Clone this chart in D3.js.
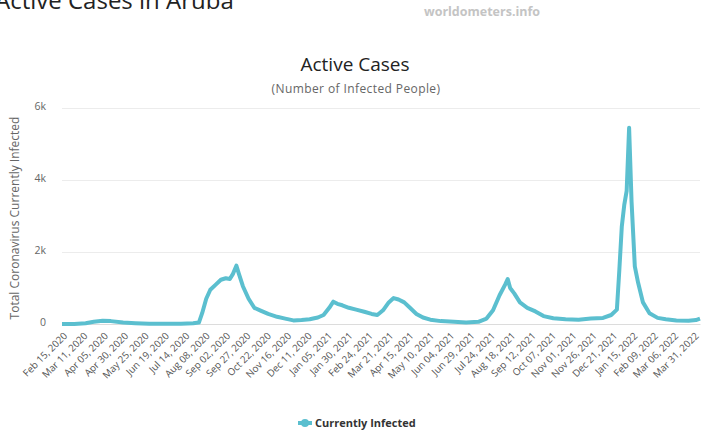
<!DOCTYPE html>
<html>
<head>
<meta charset="utf-8">
<script src="https://cdn.jsdelivr.net/npm/d3@7"></script>
<style>
  body { margin: 0; background: #fff; }
  text { font-family: "Open Sans", "DejaVu Sans", sans-serif; }
</style>
</head>
<body>
<svg id="chart" width="703" height="435"></svg>
<script>
// data
const dates = [
  "2020-02-15","2020-03-01","2020-03-15","2020-03-25","2020-04-05","2020-04-15","2020-04-30",
  "2020-05-15","2020-06-01","2020-06-20","2020-07-10","2020-07-25","2020-08-01","2020-08-05",
  "2020-08-10","2020-08-15","2020-08-22","2020-08-28","2020-09-03","2020-09-08","2020-09-12",
  "2020-09-16","2020-09-19","2020-09-24","2020-10-01","2020-10-08","2020-10-15","2020-10-25",
  "2020-11-05","2020-11-15","2020-11-25","2020-12-05","2020-12-15","2020-12-25","2021-01-01",
  "2021-01-08","2021-01-13","2021-01-18","2021-01-24","2021-02-01","2021-02-10","2021-02-20",
  "2021-03-01","2021-03-08","2021-03-15","2021-03-22","2021-03-28","2021-04-03","2021-04-10",
  "2021-04-17","2021-04-25","2021-05-03","2021-05-12","2021-05-25","2021-06-10","2021-06-25",
  "2021-07-10","2021-07-20","2021-07-28","2021-08-05","2021-08-12","2021-08-15","2021-08-18",
  "2021-08-23","2021-08-30","2021-09-08","2021-09-18","2021-09-28","2021-10-10","2021-10-25",
  "2021-11-10","2021-11-25","2021-12-10","2021-12-20","2021-12-27","2021-12-30","2022-01-02",
  "2022-01-05","2022-01-08","2022-01-11","2022-01-14","2022-01-18","2022-01-22","2022-01-28",
  "2022-02-05","2022-02-15","2022-02-25","2022-03-10","2022-03-25","2022-04-03","2022-04-08"
];
const infected = [
  0, 0, 20, 60, 90, 80, 40,
  20, 5, 5, 10, 20, 40, 300,
  700, 950, 1100, 1230, 1270, 1250, 1400,
  1620, 1400, 1050, 700, 450, 380, 280,
  200, 150, 100, 110, 130, 180, 250,
  450, 620, 560, 520, 450, 400, 340,
  280, 250, 380, 600, 720, 680, 600,
  450, 280, 180, 120, 80, 60, 40,
  60, 150, 380, 800, 1100, 1250, 1000,
  850, 600, 450, 350, 220, 160, 130,
  120, 150, 170, 250, 400, 1500, 2700,
  3300, 3700, 5450, 3400, 1600, 1150, 600,
  300, 170, 130, 100, 90, 110, 150
];
const tickStart = "2020-02-15";
const tickStepDays = 25;
const tickCount = 32;
const yTicks = [0, 2000, 4000, 6000];

const parse = d3.timeParse("%Y-%m-%d");
const data = dates.map((d, i) => ({ date: parse(d), value: infected[i] }));

const svg = d3.select("#chart");
const plot = { left: 62, right: 700, top: 108, bottom: 324 };

const x = d3.scaleTime()
  .domain([parse(tickStart), parse("2022-04-08")])
  .range([plot.left, plot.right]);
const y = d3.scaleLinear()
  .domain([0, 6000])
  .range([plot.bottom, plot.top]);

// page title (cut off at top, as in the screenshot) and watermark
svg.append("text")
  .attr("x", -5).attr("y", 9)
  .attr("font-size", 24)
  .attr("fill", "#222")
  .text("Active Cases in Aruba");
svg.append("text")
  .attr("x", 482).attr("y", 16)
  .attr("text-anchor", "middle")
  .attr("font-size", 12.5).attr("font-weight", "bold")
  .attr("fill", "#c4c4c4")
  .text("worldometers.info");

// chart titles
svg.append("text")
  .attr("x", 355).attr("y", 71)
  .attr("text-anchor", "middle")
  .attr("font-size", 19)
  .attr("fill", "#222")
  .text("Active Cases");
svg.append("text")
  .attr("x", 356).attr("y", 93)
  .attr("text-anchor", "middle")
  .attr("font-size", 12)
  .attr("letter-spacing", 0.4)
  .attr("fill", "#666")
  .text("(Number of Infected People)");

// grid + y axis
const yAxis = d3.axisLeft(y)
  .tickValues(yTicks)
  .tickSize(-(plot.right - plot.left))
  .tickFormat(d => d === 0 ? "0" : (d / 1000) + "k");
const gy = svg.append("g")
  .attr("transform", `translate(${plot.left},0)`)
  .call(yAxis);
gy.select(".domain").remove();
gy.selectAll(".tick line").attr("stroke", "#ececec");
gy.selectAll(".tick text")
  .attr("x", -16)
  .attr("dy", "0.1em")
  .attr("font-size", 10.5)
  .attr("fill", "#666")
  .attr("font-family", "Open Sans, sans-serif");

svg.append("text")
  .attr("transform", `translate(19,${(plot.top + plot.bottom) / 2 + 2}) rotate(-90)`)
  .attr("text-anchor", "middle")
  .attr("font-size", 12)
  .attr("fill", "#666")
  .text("Total Coronavirus Currently Infected");

// x axis
const tickDates = d3.range(tickCount).map(i => d3.timeDay.offset(parse(tickStart), i * tickStepDays));
const xAxis = d3.axisBottom(x)
  .tickValues(tickDates)
  .tickSize(0)
  .tickFormat(d3.timeFormat("%b %d, %Y"));
const gx = svg.append("g")
  .attr("transform", `translate(0,${plot.bottom})`)
  .call(xAxis);
gx.select(".domain").attr("stroke", "#dcdcdc");
gx.selectAll(".tick text")
  .attr("font-size", 9.8)
  .attr("fill", "#555")
  .attr("font-family", "Open Sans, sans-serif")
  .attr("text-anchor", "end")
  .attr("transform", "translate(3,10) rotate(-45)")
  .attr("y", 0).attr("dy", "0.35em");

// the line
svg.append("path")
  .datum(data)
  .attr("fill", "none")
  .attr("stroke", "#5bbfcf")
  .attr("stroke-width", 4)
  .attr("stroke-linejoin", "round")
  .attr("d", d3.line()
    .x(d => x(d.date))
    .y(d => y(d.value)));

// legend
const lg = svg.append("g").attr("transform", "translate(298,423)");
lg.append("line")
  .attr("x1", 0).attr("x2", 14)
  .attr("stroke", "#5bbfcf").attr("stroke-width", 4);
lg.append("circle")
  .attr("cx", 7).attr("r", 4)
  .attr("fill", "#5bbfcf");
lg.append("text")
  .attr("x", 17).attr("y", 4)
  .attr("font-size", 11).attr("font-weight", "bold")
  .attr("fill", "#333")
  .text("Currently Infected");
</script>
</body>
</html>
